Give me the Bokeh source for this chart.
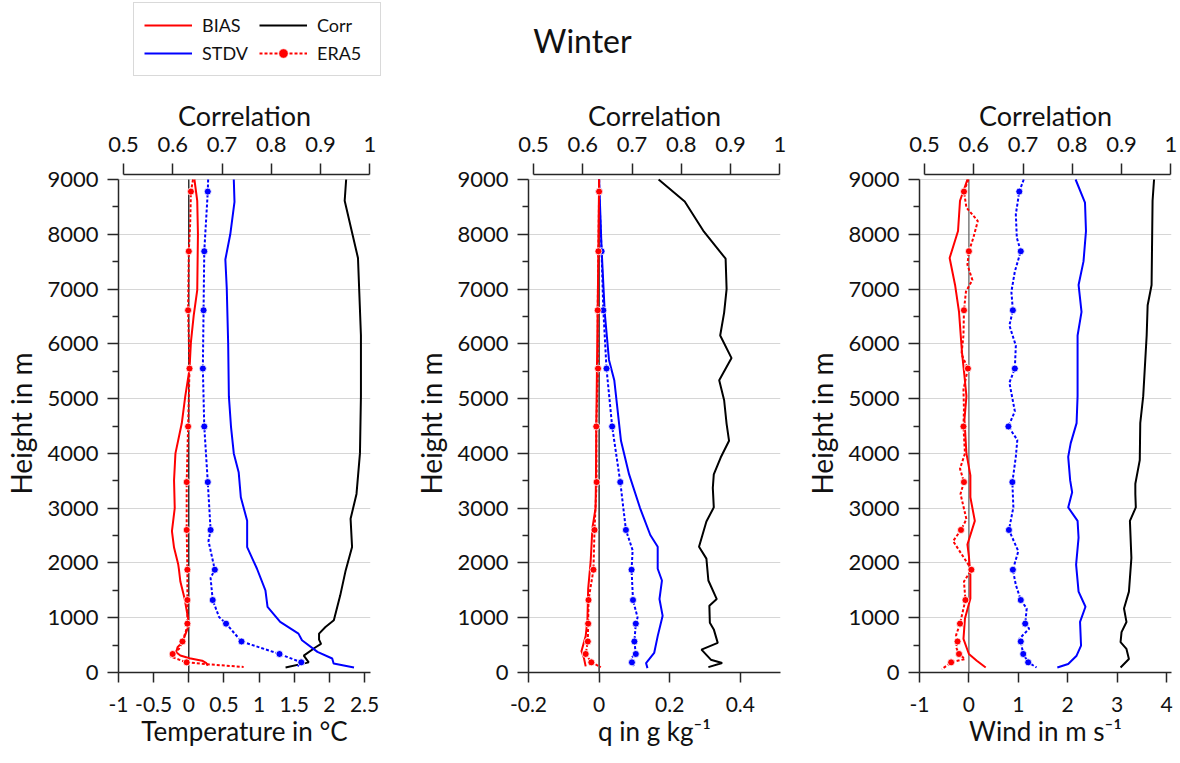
from bokeh.plotting import figure
from bokeh.layouts import row, column
from bokeh.models import Range1d, LinearAxis, Legend, LegendItem, FixedTicker, Label
from bokeh.embed import file_html
from bokeh.resources import INLINE

FONT = "Lato"
TXT = "#111111"
AX = "#262626"

# ---------------- ticks / labels ----------------
HEIGHT_TICKS = [0, 1000, 2000, 3000, 4000, 5000, 6000, 7000, 8000, 9000]
HEIGHT_MINOR = [500, 1500, 2500, 3500, 4500, 5500, 6500, 7500, 8500]
CORR_TICKS = [0.5, 0.6, 0.7, 0.8, 0.9, 1.0]
CORR_LABELS = ["0.5", "0.6", "0.7", "0.8", "0.9", "1"]
T_TICKS = [-1, -0.5, 0, 0.5, 1, 1.5, 2, 2.5]
T_LABELS = ["-1", "-0.5", "0", "0.5", "1", "1.5", "2", "2.5"]
Q_TICKS = [-0.2, 0, 0.2, 0.4]
Q_LABELS = ["-0.2", "0", "0.2", "0.4"]
W_TICKS = [-1, 0, 1, 2, 3, 4]
W_LABELS = ["-1", "0", "1", "2", "3", "4"]

# heights where the ERA5 profiles carry a marker
ERA5_MARK_H = [185, 338, 566, 892, 1323, 1876, 2602, 3476, 4491, 5549, 6613, 7690, 8779]

# ---------------- Temperature ----------------
T_BIAS_H = [9000, 8610, 8000, 6980, 6520, 6030, 5540, 5045, 4550, 4000, 3510, 3000, 2580, 2280,
            1970, 1880, 1660, 1350, 985, 830, 555, 460, 370, 310, 260, 215, 170, 125]
T_BIAS = [0.08, 0.12, 0.13, 0.12, 0.07, 0.03, 0.01, -0.05, -0.10, -0.19, -0.21, -0.20, -0.24, -0.21,
          -0.15, -0.14, -0.12, -0.06, -0.01, -0.01, -0.09, -0.16, -0.18, -0.12, 0.01, 0.19, 0.25, 0.27]
T_ERA5_H = [9000, 8779, 8200, 7690, 6613, 5549, 4491, 3476, 2602, 1876, 1323, 892, 760, 566,
            430, 338, 290, 185, 150, 100]
T_ERA5 = [0.06, 0.03, 0.02, 0.0, -0.01, 0.01, -0.01, -0.03, -0.03, -0.02, -0.02, -0.02, -0.04, -0.09,
          -0.14, -0.23, -0.26, -0.03, 0.28, 0.78]
T_STDV_H = [9000, 8590, 8000, 7540, 7010, 6000, 5045, 4490, 4000, 3650, 3200, 2770, 2290, 1894,
            1500, 1197, 923, 710, 590, 377, 255, 164, 91]
T_STDV = [0.64, 0.65, 0.59, 0.52, 0.54, 0.56, 0.57, 0.60, 0.64, 0.71, 0.74, 0.83, 0.83, 0.97,
          1.09, 1.12, 1.30, 1.56, 1.61, 1.83, 2.04, 2.06, 2.35]
T_ERA5_STDV_H = [9000, 8779, 7690, 6613, 5549, 4491, 3476, 2602, 2400, 1876, 1725, 1323, 1014,
                 892, 566, 338, 185, 105]
T_ERA5_STDV = [0.275, 0.27, 0.22, 0.21, 0.20, 0.22, 0.27, 0.31, 0.28, 0.37, 0.31, 0.34, 0.43,
               0.53, 0.75, 1.29, 1.60, 1.54]
T_CORR_H = [9000, 8612, 7567, 6152, 5045, 4000, 3260, 2805, 2290, 1864, 1408, 953, 830, 710, 600,
            523, 461, 308, 185, 92]
T_CORR = [0.952, 0.949, 0.976, 0.982, 0.982, 0.980, 0.973, 0.961, 0.964, 0.951, 0.940, 0.927,
          0.910, 0.897, 0.897, 0.901, 0.890, 0.866, 0.876, 0.829]

# ---------------- Specific humidity ----------------
Q_BIAS_H = [9000, 7738, 6630, 5580, 4470, 3490, 3002, 2633, 2018, 1525, 972, 664, 388, 265, 111]
Q_BIAS = [0.0, -0.002, -0.004, -0.006, -0.008, -0.009, -0.010, -0.019, -0.024, -0.031, -0.033,
          -0.038, -0.050, -0.043, -0.038]
Q_ERA5_H = [9000, 8779, 7690, 6613, 5549, 4491, 3476, 2602, 1876, 1323, 892, 566, 338, 185, 98]
Q_ERA5 = [0.0, 0.0, -0.002, -0.004, -0.003, -0.008, -0.007, -0.013, -0.016, -0.030, -0.031,
          -0.032, -0.038, -0.022, 0.005]
Q_STDV_H = [9000, 7738, 6566, 5706, 5337, 4230, 3616, 3002, 2510, 2295, 1894, 1679, 1341, 1034,
            664, 357, 172, 80]
Q_STDV = [0.0, 0.007, 0.016, 0.028, 0.043, 0.062, 0.085, 0.116, 0.145, 0.166, 0.166, 0.178,
          0.171, 0.180, 0.166, 0.156, 0.133, 0.137]
Q_ERA5_STDV_H = [9000, 8779, 7690, 6613, 5549, 4491, 3476, 2602, 2233, 1876, 1323, 1003, 892,
                 566, 338, 264, 185, 98]
Q_ERA5_STDV = [0.0, 0.0, 0.007, 0.012, 0.021, 0.037, 0.060, 0.076, 0.095, 0.092, 0.096, 0.109,
               0.104, 0.100, 0.104, 0.090, 0.093, 0.100]
Q_CORR_H = [9000, 8600, 8047, 7554, 7000, 6570, 6152, 5740, 5337, 4970, 4540, 4230, 3924, 3616,
            3370, 3014, 2756, 2510, 2295, 2079, 1679, 1341, 1218, 910, 787, 541, 418, 234, 172, 98]
Q_CORR = [0.754, 0.807, 0.846, 0.890, 0.892, 0.887, 0.879, 0.902, 0.877, 0.887, 0.892, 0.897,
          0.880, 0.866, 0.864, 0.866, 0.851, 0.843, 0.836, 0.851, 0.855, 0.872, 0.857, 0.858,
          0.866, 0.874, 0.841, 0.860, 0.883, 0.855]

# ---------------- Wind ----------------
W_BIAS_H = [9000, 8612, 8059, 7567, 7075, 6582, 5844, 5414, 5045, 4614, 3999, 3599, 3199, 2768,
            2338, 2122, 1784, 1353, 984, 615, 338, 215, 92]
W_BIAS = [-0.03, -0.18, -0.22, -0.39, -0.28, -0.20, -0.14, -0.09, -0.05, -0.09, -0.05, 0.03, 0.03,
          0.12, -0.03, 0.0, 0.03, 0.03, -0.08, -0.11, 0.0, 0.16, 0.34]
W_ERA5_H = [9000, 8779, 8488, 8242, 7936, 7690, 7444, 7167, 6952, 6613, 6152, 5813, 5549, 5168,
            4799, 4491, 3999, 3722, 3476, 3260, 2799, 2602, 2399, 1969, 1876, 1661, 1323, 892,
            677, 566, 461, 338, 246, 185, 123, 62]
W_ERA5 = [-0.01, -0.10, -0.05, 0.18, 0.09, 0.0, -0.03, 0.07, -0.06, -0.10, -0.11, -0.15, -0.02,
          -0.11, -0.10, -0.11, -0.08, -0.18, -0.10, -0.17, -0.05, -0.16, -0.32, -0.01, 0.05, -0.10,
          -0.07, -0.18, -0.26, -0.23, -0.26, -0.20, -0.08, -0.36, -0.45, -0.55]
W_STDV_H = [9000, 8580, 8059, 7505, 7075, 6582, 6152, 5045, 4552, 4183, 3937, 3507, 3291, 3014,
            2768, 2461, 1969, 1476, 1200, 923, 492, 307, 154, 92]
W_STDV = [2.16, 2.35, 2.37, 2.32, 2.22, 2.28, 2.20, 2.20, 2.18, 2.06, 2.01, 2.05, 2.09, 2.01,
          2.20, 2.22, 2.17, 2.22, 2.36, 2.25, 2.27, 2.18, 2.01, 1.79]
W_ERA5_STDV_H = [9000, 8779, 8365, 7936, 7690, 7321, 6952, 6613, 6336, 5967, 5549, 5291, 4768,
                 4491, 4245, 3937, 3476, 3014, 2602, 2215, 1876, 1599, 1323, 1169, 892, 800,
                 615, 566, 338, 185, 92]
W_ERA5_STDV = [1.11, 1.02, 0.95, 0.97, 1.05, 0.93, 0.86, 0.89, 0.82, 0.95, 0.93, 0.82, 0.93,
               0.80, 0.98, 0.95, 0.88, 0.90, 0.81, 1.00, 0.89, 0.95, 1.05, 1.17, 1.14, 1.22,
               1.02, 1.05, 1.10, 1.20, 1.37]
W_CORR_H = [9000, 8612, 7075, 6705, 6152, 5045, 4552, 3876, 3445, 3260, 3014, 2768, 2092, 1476,
            1169, 923, 738, 554, 430, 246, 92]
W_CORR = [0.966, 0.963, 0.961, 0.953, 0.951, 0.944, 0.938, 0.937, 0.928, 0.928, 0.929, 0.917,
          0.920, 0.915, 0.905, 0.910, 0.900, 0.898, 0.910, 0.915, 0.898]

RED = "#ff0000"
BLUE = "#0000ff"

TOP_H = 76          # strip holding the legend and the title
PANEL_H = 763 - TOP_H
FRAME_TOP = 174     # page y of the plot frames' top edge
FRAME_BOTTOM_GAP = 91


def marks(hs, vs):
    mh = [h for h in hs if h in ERA5_MARK_H]
    mv = [v for h, v in zip(hs, vs) if h in ERA5_MARK_H]
    return mv, mh


def style_axis(ax, tick_size, label_size):
    ax.axis_line_color = AX
    ax.axis_line_width = 1.5
    ax.major_tick_line_color = AX
    ax.major_tick_line_width = 1.5
    ax.minor_tick_line_color = AX
    ax.minor_tick_line_width = 1.5
    ax.major_tick_in = 0
    ax.minor_tick_in = 0
    ax.major_label_text_font = FONT
    ax.major_label_text_font_size = tick_size
    ax.major_label_text_color = TXT
    ax.axis_label_text_font = FONT
    ax.axis_label_text_font_size = label_size
    ax.axis_label_text_font_style = "normal"
    ax.axis_label_text_color = TXT


def make_panel(width, bl, br, xstart, ppu, xticks, xlabels, xtitle, data, zero_color):
    bt = FRAME_TOP - TOP_H
    bb = FRAME_BOTTOM_GAP
    frame_w = width - bl - br
    frame_h = PANEL_H - bt - bb
    y_end = 9000 * frame_h / (frame_h - 5)
    xend = xstart + frame_w / ppu
    # correlation axis: 0.5 sits 5 px right of the frame's left edge
    per_unit = 492.6
    c_start = 0.5 - 5 / per_unit
    c_end = c_start + frame_w / per_unit

    p = figure(width=width, height=PANEL_H, output_backend="svg", toolbar_location=None,
               x_range=Range1d(xstart, xend), y_range=Range1d(0, y_end),
               min_border_left=bl, min_border_right=br, min_border_top=bt, min_border_bottom=bb)
    p.outline_line_color = None
    p.xgrid.visible = False
    p.ygrid.ticker = FixedTicker(ticks=HEIGHT_TICKS)
    p.ygrid.grid_line_color = "#d6d6d6"
    p.ygrid.grid_line_width = 1
    p.extra_x_ranges = {"corr": Range1d(c_start, c_end)}

    xa = p.xaxis[0]
    xa.ticker = FixedTicker(ticks=xticks)
    xa.major_label_overrides = dict(zip(xticks, xlabels))
    xa.axis_label = xtitle
    style_axis(xa, "21px", "26px")
    xa.major_tick_out = 10
    xa.major_label_standoff = 14
    xa.axis_label_standoff = 0

    ya = p.yaxis[0]
    ya.ticker = FixedTicker(ticks=HEIGHT_TICKS, minor_ticks=HEIGHT_MINOR)
    ya.bounds = (0, 9000)
    ya.axis_label = "Height in m"
    style_axis(ya, "22px", "28px")
    ya.major_tick_out = 11
    ya.minor_tick_out = 6
    ya.major_label_standoff = 9
    ya.axis_label_standoff = 6

    ta = LinearAxis(x_range_name="corr", axis_label="Correlation",
                    ticker=FixedTicker(ticks=CORR_TICKS), bounds=(0.5, 1.0),
                    major_label_overrides=dict(zip(CORR_TICKS, CORR_LABELS)))
    style_axis(ta, "22px", "27px")
    ta.major_tick_out = 11
    ta.major_label_standoff = 12
    ta.axis_label_standoff = 2
    p.add_layout(ta, "above")

    (bh, bv), (eh, ev), (sh, sv), (esh, esv), (ch, cv) = data

    p.line([0, 0], [HEIGHT_TICKS[0], HEIGHT_TICKS[-1]], line_color=zero_color, line_width=1.2)

    p.line(cv, ch, x_range_name="corr", line_color="black", line_width=2)
    p.line(sv, sh, line_color=BLUE, line_width=2)
    p.line(esv, esh, line_color=BLUE, line_width=2, line_dash="3 2")
    mv, mh = marks(esh, esv)
    p.scatter(mv, mh, marker="circle", size=7, fill_color=BLUE, line_color="white", line_width=0.8)
    p.line(bv, bh, line_color=RED, line_width=2)
    p.line(ev, eh, line_color=RED, line_width=2, line_dash="3 2")
    mv, mh = marks(eh, ev)
    p.scatter(mv, mh, marker="circle", size=7, fill_color=RED, line_color="white", line_width=0.8)
    return p


p1 = make_panel(410, 118, 40, -1, 70.3, T_TICKS, T_LABELS, "Temperature in °C",
                [(T_BIAS_H, T_BIAS), (T_ERA5_H, T_ERA5), (T_STDV_H, T_STDV),
                 (T_ERA5_STDV_H, T_ERA5_STDV), (T_CORR_H, T_CORR)], "black")
p2 = make_panel(390, 118, 20, -0.2, 353.0, Q_TICKS, Q_LABELS, "q in g kg\u207b\u00b9",
                [(Q_BIAS_H, Q_BIAS), (Q_ERA5_H, Q_ERA5), (Q_STDV_H, Q_STDV),
                 (Q_ERA5_STDV_H, Q_ERA5_STDV), (Q_CORR_H, Q_CORR)], "black")
p3 = make_panel(380, 119, 9, -1, 49.4, W_TICKS, W_LABELS, "Wind in m s\u207b\u00b9",
                [(W_BIAS_H, W_BIAS), (W_ERA5_H, W_ERA5), (W_STDV_H, W_STDV),
                 (W_ERA5_STDV_H, W_ERA5_STDV), (W_CORR_H, W_CORR)], "#5a5a5a")

# ---------------- top strip: legend + season title ----------------
# the strip's ranges are 0..1, so the temperature profiles drawn here stay out of view and
# only feed the legend swatches
top = figure(width=1180, height=TOP_H, output_backend="svg", toolbar_location=None,
             x_range=Range1d(0, 1), y_range=Range1d(0, 1), x_axis_type=None, y_axis_type=None,
             min_border=0, min_border_left=0, min_border_right=0, min_border_top=0,
             min_border_bottom=0)
top.outline_line_color = None
top.grid.visible = False
lg_bias = top.line(T_BIAS, T_BIAS_H, line_color=RED, line_width=2)
lg_stdv = top.line(T_STDV, T_STDV_H, line_color=BLUE, line_width=2)
lg_corr = top.line(T_CORR, T_CORR_H, line_color="black", line_width=2)
lg_era = top.line(T_ERA5, T_ERA5_H, line_color=RED, line_width=2, line_dash="3 2")
_mv, _mh = marks(T_ERA5_H, T_ERA5)
lg_era_m = top.scatter(_mv, _mh, marker="circle", size=7, fill_color=RED, line_color="white",
                       line_width=0.8)

legend = Legend(items=[LegendItem(label="BIAS", renderers=[lg_bias]),
                       LegendItem(label="STDV", renderers=[lg_stdv]),
                       LegendItem(label="Corr", renderers=[lg_corr]),
                       LegendItem(label="ERA5", renderers=[lg_era, lg_era_m])],
                location=(133, 0), orientation="vertical", ncols=2,
                glyph_width=48, glyph_height=24, label_height=24, label_width=53,
                padding=10, spacing=4, label_standoff=10, margin=0,
                border_line_color="#b3b3b3", border_line_width=1,
                background_fill_color="white", background_fill_alpha=1.0,
                label_text_font=FONT, label_text_font_size="18px", label_text_color=TXT)
top.add_layout(legend, "center")

top.add_layout(Label(x=582, y=TOP_H - 40, x_units="screen", y_units="screen", text="Winter",
                     text_font=FONT, text_font_size="32px", text_color=TXT,
                     text_align="center", text_baseline="middle"))

layout = column(top, row(p1, p2, p3, spacing=0), spacing=0)
open("out.html", "w").write(file_html(layout, INLINE))
